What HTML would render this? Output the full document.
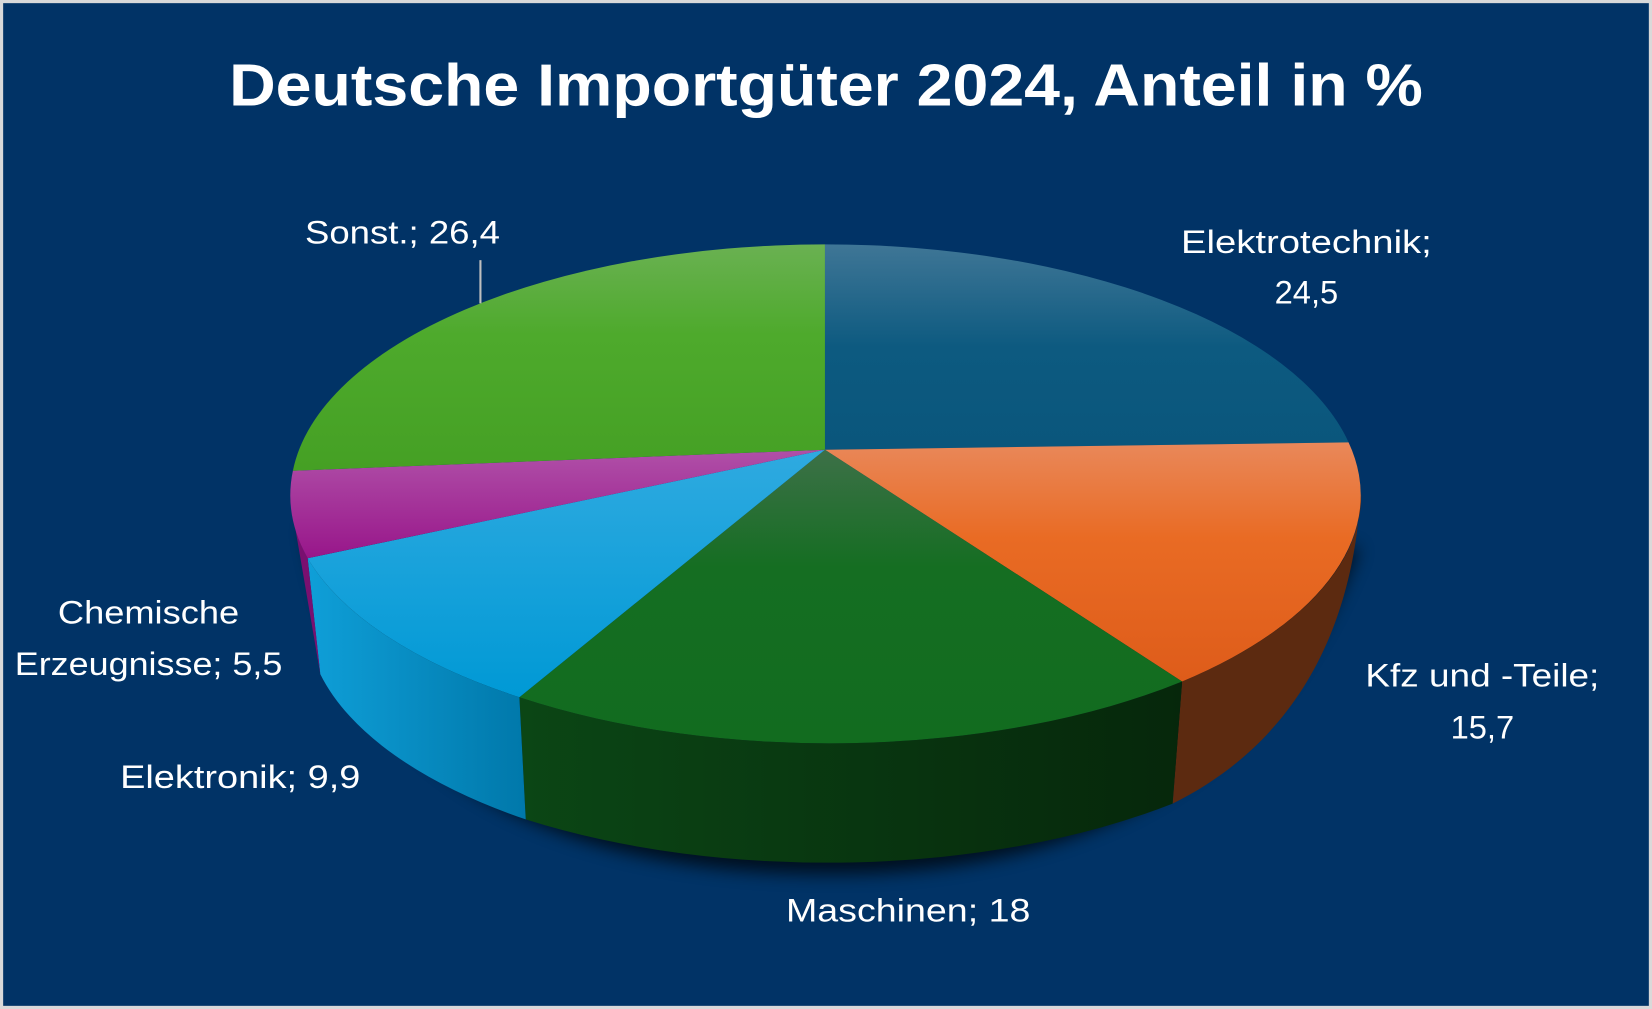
<!DOCTYPE html>
<html><head><meta charset="utf-8"><style>
html,body{margin:0;padding:0;background:#d9d9d9;}
svg{display:block;}
text{font-family:"Liberation Sans",sans-serif;fill:#fff;}
</style></head><body>
<svg width="1652" height="1009" viewBox="0 0 1568 958" preserveAspectRatio="none" xmlns="http://www.w3.org/2000/svg">
<defs>
<linearGradient id="gE" x1="0" y1="0" x2="0" y2="1"><stop offset="0" stop-color="#3f7696"/><stop offset="0.5" stop-color="#0d5a80"/><stop offset="1" stop-color="#0a567c"/></linearGradient>
<linearGradient id="gK" x1="0" y1="0" x2="0" y2="1"><stop offset="0" stop-color="#e9885a"/><stop offset="0.4" stop-color="#e96b24"/><stop offset="1" stop-color="#de5c1a"/></linearGradient>
<linearGradient id="gM" x1="0" y1="0" x2="0" y2="1"><stop offset="0" stop-color="#3d7048"/><stop offset="0.4" stop-color="#156e22"/><stop offset="1" stop-color="#126c1f"/></linearGradient>
<linearGradient id="gL" x1="0" y1="0" x2="0" y2="1"><stop offset="0" stop-color="#2faae0"/><stop offset="1" stop-color="#0099d5"/></linearGradient>
<linearGradient id="gC" x1="0" y1="0" x2="0" y2="1"><stop offset="0" stop-color="#b050a8"/><stop offset="1" stop-color="#98168a"/></linearGradient>
<linearGradient id="gS" x1="0" y1="0" x2="0" y2="1"><stop offset="0" stop-color="#6ab152"/><stop offset="0.4" stop-color="#4eaa2c"/><stop offset="1" stop-color="#45a024"/></linearGradient>
<linearGradient id="sM" x1="0" y1="0" x2="1" y2="0"><stop offset="0" stop-color="#0b4615"/><stop offset="1" stop-color="#06270b"/></linearGradient>
<linearGradient id="sL" x1="0" y1="0" x2="1" y2="0"><stop offset="0" stop-color="#0f9fd8"/><stop offset="1" stop-color="#0078aa"/></linearGradient>
<filter id="bl" x="-20%" y="-20%" width="140%" height="140%"><feGaussianBlur stdDeviation="8"/></filter>
</defs>
<rect x="0" y="0" width="1568" height="958" fill="#d9d9d9"/>
<rect x="3" y="3" width="1562" height="952" fill="#013366"/>
<text x="784" y="100" font-size="56" font-weight="bold" text-anchor="middle" textLength="1133" lengthAdjust="spacingAndGlyphs">Deutsche Importgüter 2024, Anteil in %</text>
<path d="M290,500 C330,760 560,830 790,830 C1000,830 1200,760 1290,520 Z" fill="#000" opacity="0.7" filter="url(#bl)"/>
<!-- sides -->
<path d="M1292,469 A508,237 0 0 1 1122,647 L1113,763 C1200,720 1270,640 1288,505 Z" fill="#5c2a10"/>
<path d="M1122,647 A508,237 0 0 1 493,662 L499,778 A508,237 0 0 0 1113,763 Z" fill="url(#sM)"/>
<path d="M493,662 A508,237 0 0 1 292,530 L304,640 A508,237 0 0 0 499,778 Z" fill="url(#sL)"/>
<path d="M292,530 A508,237 0 0 1 276,469 L280,500 L304,640 Z" fill="#7a1070"/>
<!-- top -->
<path d="M783,427 L783,232 A508,237 0 0 1 1280,420 Z" fill="url(#gE)"/>
<path d="M783,427 L1280,420 A508,237 0 0 1 1122,647 Z" fill="url(#gK)"/>
<path d="M783,427 L1122,647 A508,237 0 0 1 493,662 Z" fill="url(#gM)"/>
<path d="M783,427 L493,662 A508,237 0 0 1 292,530 Z" fill="url(#gL)"/>
<path d="M783,427 L292,530 A508,237 0 0 1 278,447 Z" fill="url(#gC)"/>
<path d="M783,427 L278,447 A508,237 0 0 1 783,232 Z" fill="url(#gS)"/>
<line x1="456" y1="247" x2="456" y2="288" stroke="#bfbfbf" stroke-width="2"/>
<g font-size="31">
<text x="382" y="231" text-anchor="middle" textLength="185" lengthAdjust="spacingAndGlyphs">Sonst.; 26,4</text>
<text x="1240" y="240" text-anchor="middle" textLength="238" lengthAdjust="spacingAndGlyphs">Elektrotechnik;</text>
<text x="1240" y="288" text-anchor="middle">24,5</text>
<text x="1407" y="652" text-anchor="middle" textLength="222" lengthAdjust="spacingAndGlyphs">Kfz und -Teile;</text>
<text x="1407" y="701" text-anchor="middle">15,7</text>
<text x="862" y="875" text-anchor="middle" textLength="232" lengthAdjust="spacingAndGlyphs">Maschinen; 18</text>
<text x="228" y="748" text-anchor="middle" textLength="228" lengthAdjust="spacingAndGlyphs">Elektronik; 9,9</text>
<text x="141" y="592" text-anchor="middle" textLength="172" lengthAdjust="spacingAndGlyphs">Chemische</text>
<text x="141" y="641" text-anchor="middle" textLength="254" lengthAdjust="spacingAndGlyphs">Erzeugnisse; 5,5</text>
</g>
</svg>
</body></html>
